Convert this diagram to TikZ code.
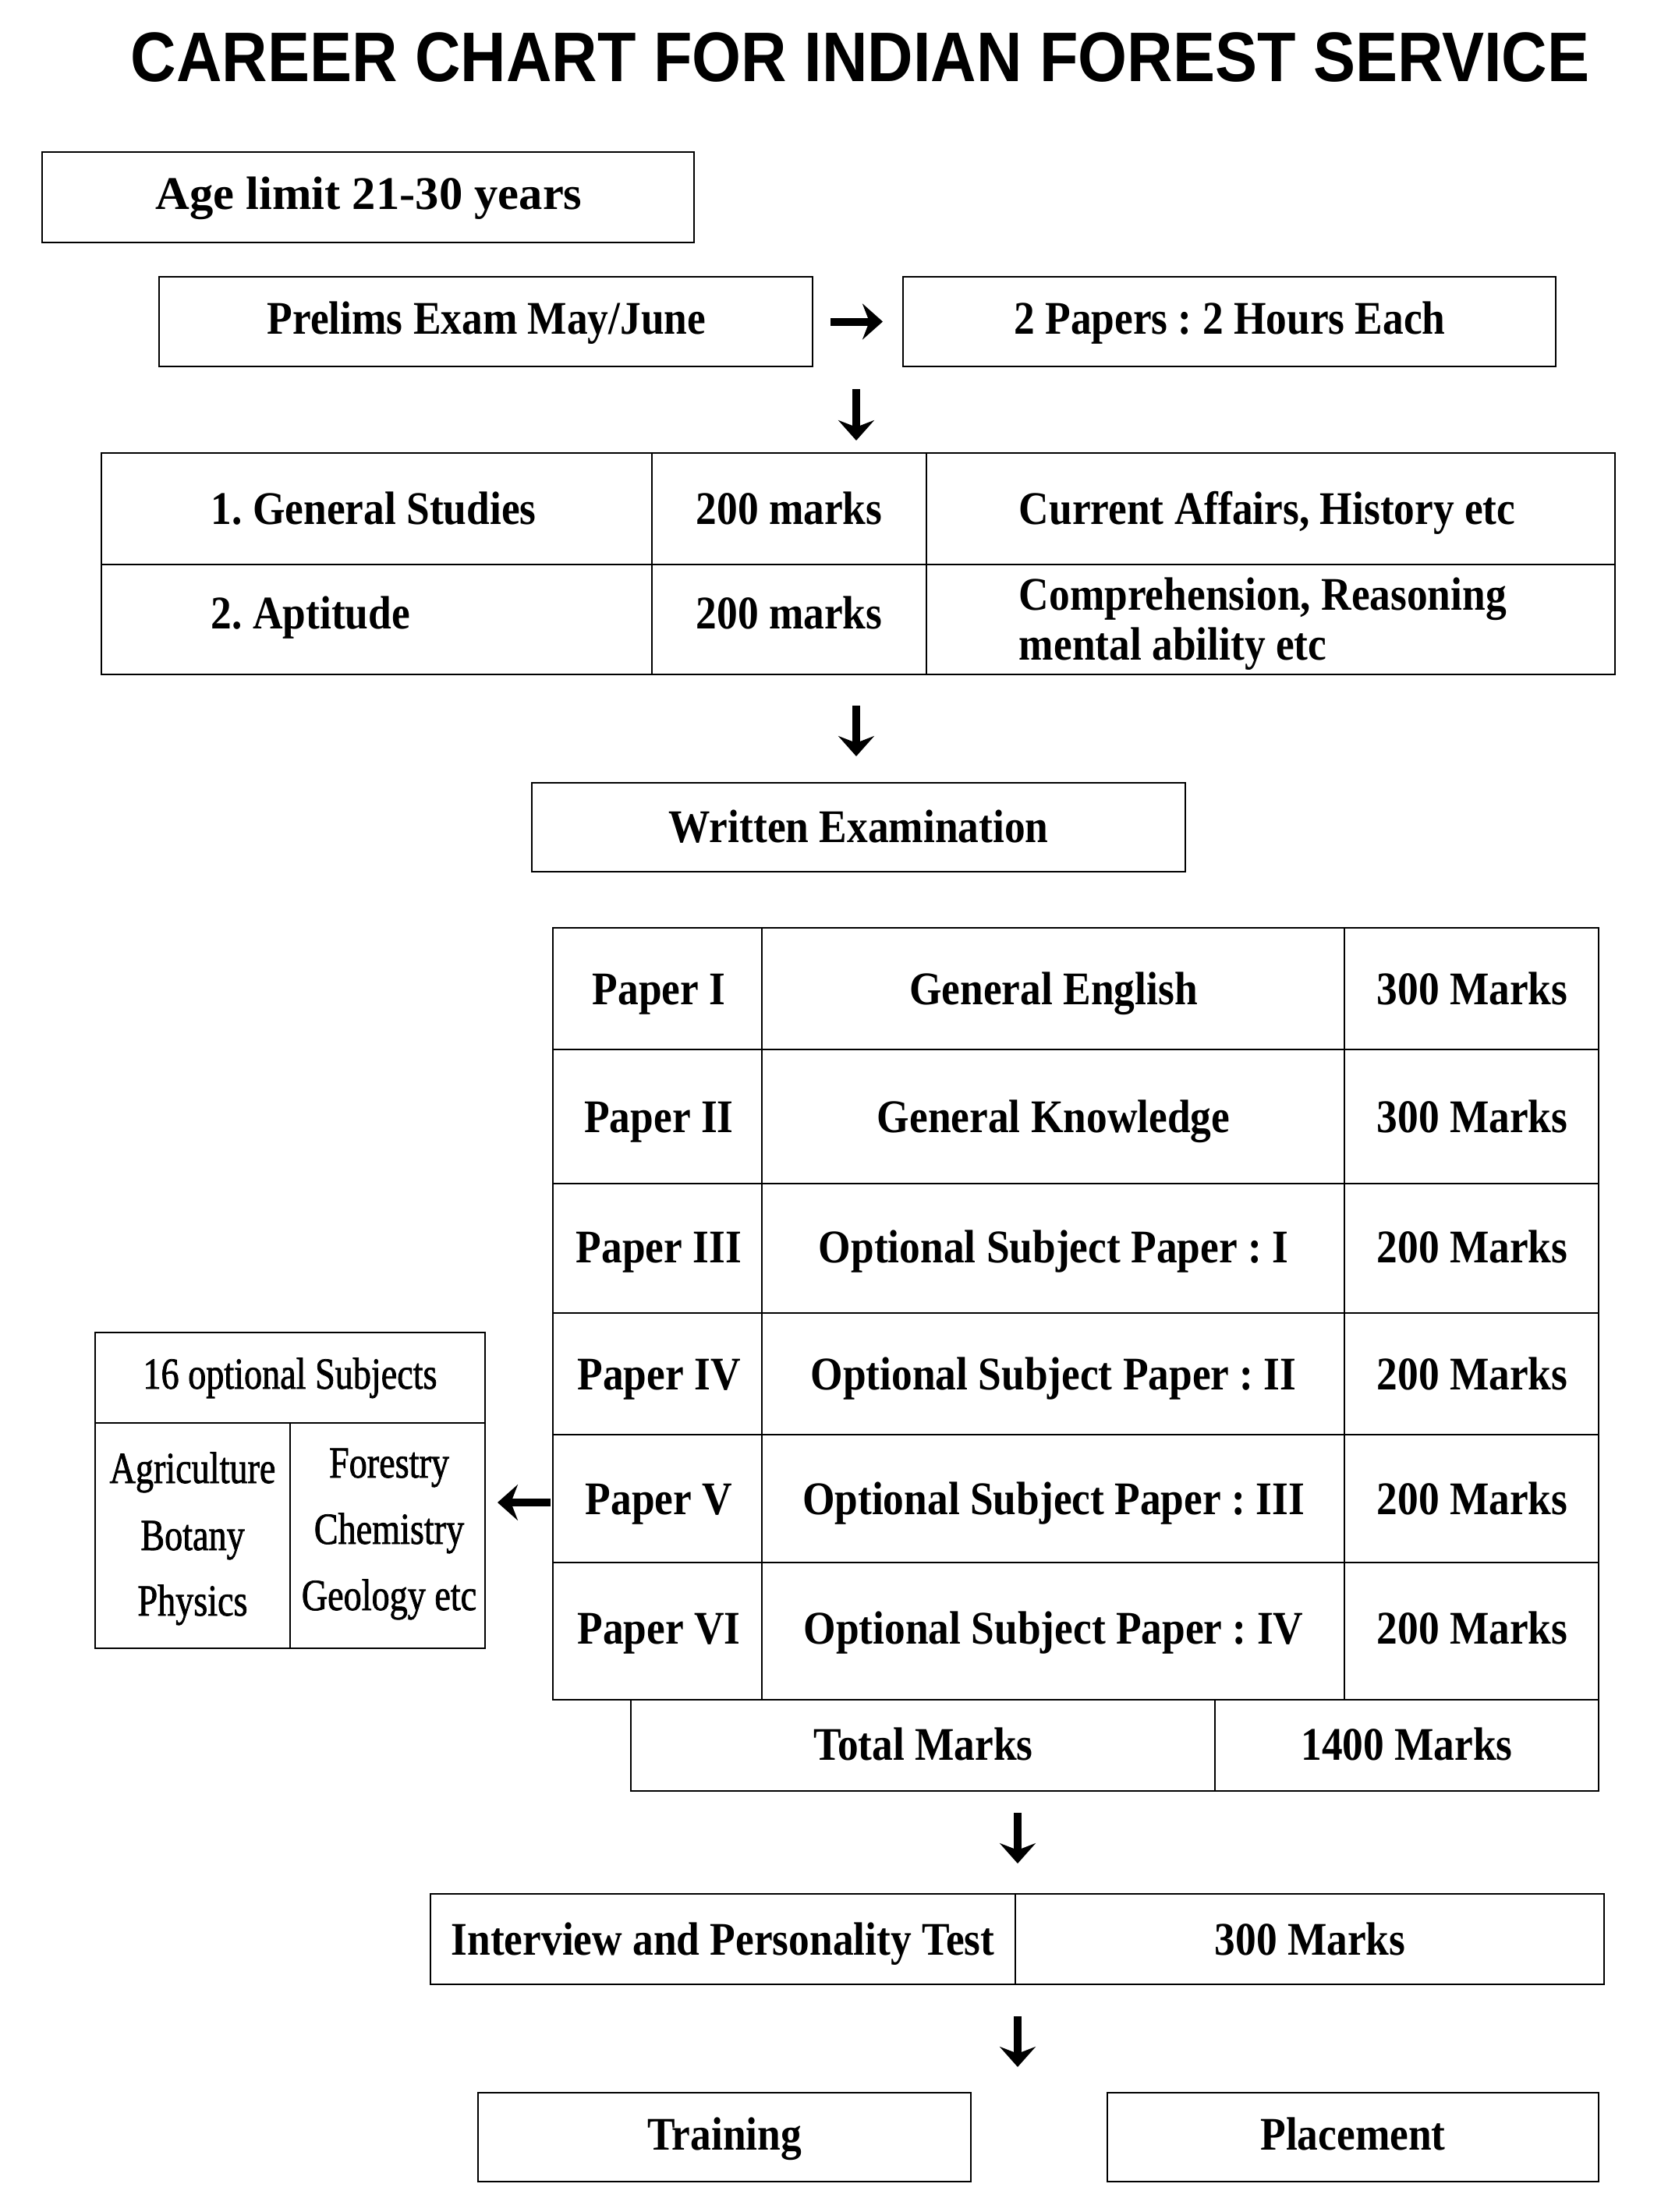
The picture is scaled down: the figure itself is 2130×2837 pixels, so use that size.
\documentclass[tikz,border=0pt]{standalone}
\usepackage{fontspec}
\usetikzlibrary{arrows.meta,calc}
\newfontfamily\bodyf{Liberation Serif}[FakeStretch=0.89]
\newfontfamily\agef{Liberation Serif}[FakeStretch=1.01]
\newfontfamily\optf{Liberation Serif}[FakeStretch=0.81,FakeBold=1.3]
\newfontfamily\titlef{Liberation Sans}[FakeStretch=0.9]
\frenchspacing
\begin{document}
\frenchspacing
\begin{tikzpicture}[x=0.25pt,y=-0.25pt,
  box/.style={draw, line width=0.7pt, inner sep=0pt, outer sep=0pt, anchor=north west},
  grid/.style={line width=0.7pt},
  txt/.style={anchor=base, inner sep=0pt, font=\bodyf\bfseries\fontsize{15}{18}\selectfont},
  txtl/.style={txt, anchor=base west},
  opttxt/.style={anchor=base, inner sep=0pt, font=\optf\fontsize{14.25}{17}\selectfont},
  arr/.style={line width=2.5pt, -{Stealth[length=6.5pt,width=11.5pt,inset=2.2pt]}}]
\useasboundingbox[fill=white] (0,0) rectangle (2130,2837);

% title
\node[anchor=base, inner sep=0pt, font=\titlef\bfseries\fontsize{22.5}{26}\selectfont] (title) at (1103,104) {CAREER CHART FOR INDIAN FOREST SERVICE};

% boxes
\node[box, minimum width=836*0.25pt, minimum height=116*0.25pt] (age) at (54,195) {};
\node[box, minimum width=838*0.25pt, minimum height=115*0.25pt] (prelims) at (204,355) {};
\node[box, minimum width=837*0.25pt, minimum height=115*0.25pt] (papers) at (1158,355) {};
\node[box, minimum width=1941*0.25pt, minimum height=284*0.25pt] (t1) at (130,581) {};
\node[box, minimum width=838*0.25pt, minimum height=114*0.25pt] (written) at (682,1004) {};
\node[box, minimum width=1341*0.25pt, minimum height=990*0.25pt] (t2) at (709,1190) {};
\node[box, minimum width=1241*0.25pt, minimum height=117*0.25pt] (total) at (809,2180) {};
\node[box, minimum width=500*0.25pt, minimum height=405*0.25pt] (opt) at (122,1709) {};
\node[box, minimum width=1505*0.25pt, minimum height=116*0.25pt] (interview) at (552,2429) {};
\node[box, minimum width=632*0.25pt, minimum height=114*0.25pt] (training) at (613,2684) {};
\node[box, minimum width=630*0.25pt, minimum height=114*0.25pt] (placement) at (1420,2684) {};

% table 1 grid
\draw[grid] (130,724) -- (2071,724);
\draw[grid] (836,581) -- (836,865);
\draw[grid] (1188,581) -- (1188,865);
% table 2 grid
\foreach \yy in {1346,1518,1684,1840,2004} \draw[grid] (709,\yy) -- (2050,\yy);
\draw[grid] (977,1190) -- (977,2180);
\draw[grid] (1724,1190) -- (1724,2180);
\draw[grid] (1558,2180) -- (1558,2297);
% optional box grid
\draw[grid] (122,1825) -- (622,1825);
\draw[grid] (372,1825) -- (372,2114);
% interview divider
\draw[grid] (1302,2429) -- (1302,2545);

% texts
\node[anchor=base, inner sep=0pt, font=\agef\bfseries\fontsize{15}{18}\selectfont] (agetxt) at (473,268) {Age limit 21-30 years};
\node[txt] (pretxt) at (624,428) {Prelims Exam May/June};
\node[txt] (paptxt) at (1577,428) {2 Papers : 2 Hours Each};

\node[txtl] (gs) at (270,672) {1. General Studies};
\node[txt] (gsm) at (1012,672) {200 marks};
\node[txtl] (gsd) at (1306,672) {Current Affairs, History etc};
\node[txtl] (ap) at (270,806) {2. Aptitude};
\node[txt] (apm) at (1012,806) {200 marks};
\node[txtl] (apd1) at (1306,782) {Comprehension, Reasoning};
\node[txtl] (apd2) at (1306,846) {mental ability etc};

\node[txt] (wtxt) at (1101,1080) {Written Examination};

\foreach \i/\yy/\pp/\ss/\mm in {1/1288/Paper I/General English/300 Marks,
  2/1452/Paper II/General Knowledge/300 Marks,
  3/1619/Paper III/Optional Subject Paper : I/200 Marks,
  4/1782/Paper IV/Optional Subject Paper : II/200 Marks,
  5/1942/Paper V/Optional Subject Paper : III/200 Marks,
  6/2108/Paper VI/Optional Subject Paper : IV/200 Marks}{
  \node[txt] (pa\i) at (845,\yy) {\pp};
  \node[txt] (pb\i) at (1351,\yy) {\ss};
  \node[txt] (pc\i) at (1888,\yy) {\mm};
}
\node[txt] (tot1) at (1184,2257) {Total Marks};
\node[txt] (tot2) at (1804,2257) {1400 Marks};

\node[opttxt] (o0) at (372,1781) {16 optional Subjects};
\node[opttxt] (o1) at (247,1902) {Agriculture};
\node[opttxt] (o2) at (247,1988) {Botany};
\node[opttxt] (o3) at (247,2072) {Physics};
\node[opttxt] (o4) at (499,1895) {Forestry};
\node[opttxt] (o5) at (499,1980) {Chemistry};
\node[opttxt] (o6) at (499,2065) {Geology etc};

\node[txt] (int1) at (927,2507) {Interview and Personality Test};
\node[txt] (int2) at (1680,2507) {300 Marks};
\node[txt] (trtxt) at (929,2757) {Training};
\node[txt] (pltxt) at (1735,2757) {Placement};

% arrows
\draw[arr] ($(prelims.east)+(23,0)$) -- ($(papers.west)+(-26,0)$);
\coordinate (d1) at (1098,499);
\draw[arr, shorten >=4pt] (d1) -- (d1 |- t1.north);
\coordinate (d2) at (1098,905);
\draw[arr, shorten >=8.5pt] (d2) -- (d2 |- written.north);
\coordinate (d3) at (1305,2325);
\draw[arr, shorten >=9.75pt] (d3) -- (d3 |- interview.north);
\coordinate (d4) at (1305,2586);
\draw[arr, shorten >=8.25pt] (d4) -- (d4 |- training.north);
\coordinate (la) at (706,1927);
\draw[arr, shorten >=4pt] (la) -- (la -| opt.east);
\end{tikzpicture}
\end{document}
